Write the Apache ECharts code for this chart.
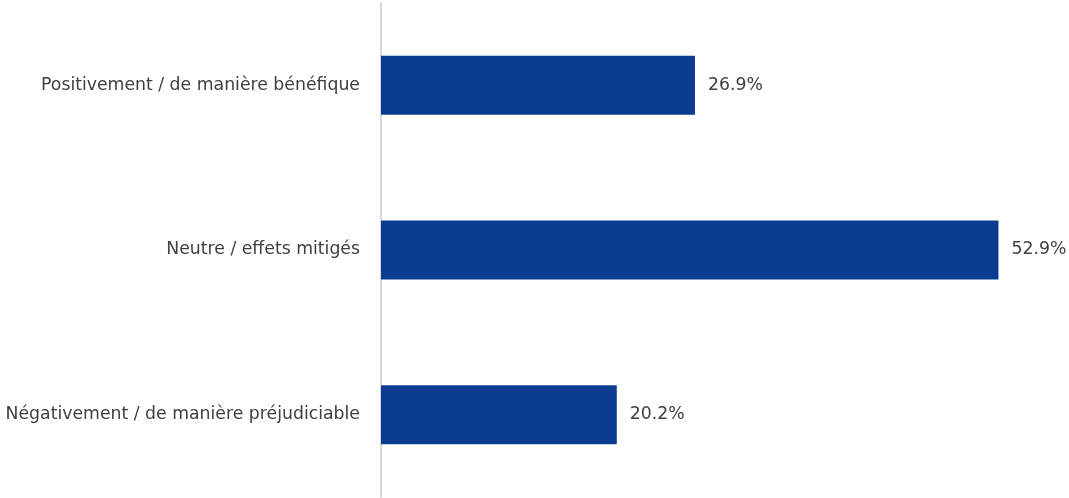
<!DOCTYPE html>
<html><head><meta charset="utf-8">
<script src="https://cdn.jsdelivr.net/npm/echarts@6/dist/echarts.min.js"></script>
<style>html,body{margin:0;padding:0;background:#fff}#c{width:1069px;height:498px}</style>
</head><body><div id="c"></div>
<script>
const categories = ["Positivement / de manière bénéfique", "Neutre / effets mitigés", "Négativement / de manière préjudiciable"];
const values = [26.9, 52.9, 20.2];

const chart = echarts.init(document.getElementById('c'));
chart.setOption({
  animation: false,
  grid: { left: 381, right: 11, top: 3, bottom: 1, containLabel: false },
  xAxis: { type: 'value', min: 0, max: 58, show: false },
  yAxis: {
    type: 'category', inverse: true, data: categories,
    axisLine: { show: true, lineStyle: { color: '#d9d9d9', width: 2 } },
    axisTick: { show: false },
    axisLabel: { color: '#404040', fontSize: 17.3, fontFamily: 'DejaVu Sans', margin: 21 }
  },
  series: [{
    type: 'bar', data: values, barWidth: 59,
    itemStyle: { color: '#0c3c8f' },
    label: { show: true, position: 'right', distance: 13, color: '#404040', fontSize: 17.3, fontFamily: 'DejaVu Sans',
      formatter: p => p.value.toFixed(1) + '%' }
  }]
});
</script></body></html>
